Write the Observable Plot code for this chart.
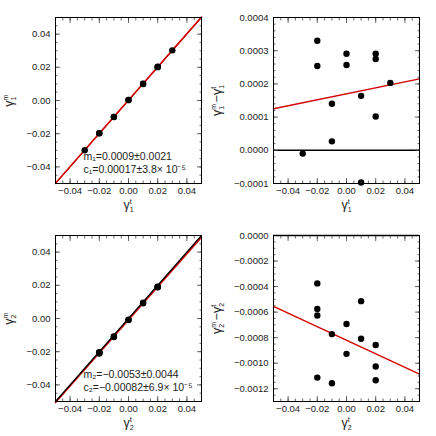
<!DOCTYPE html>
<html>
<head>
<meta charset="utf-8">
<script src="https://cdn.jsdelivr.net/npm/d3@7"></script>
<script src="https://cdn.jsdelivr.net/npm/@observablehq/plot@0.6"></script>
<style>
  html, body { margin: 0; padding: 0; background: #fff; }
  #wrap { position: relative; width: 436px; height: 436px; overflow: hidden; }
  #wrap > svg { position: absolute; overflow: visible; }
</style>
</head>
<body>
<div id="wrap"></div>
<script>
// ---------- data ----------
// true shear values for component 1 and residuals (measured - true)
const g1True  = [-0.03, -0.02, -0.02, -0.01, -0.01, 0.00, 0.00, 0.01, 0.01, 0.02, 0.02, 0.02, 0.03];
const g1Resid = [-0.000010, 0.000330, 0.000254, 0.000140, 0.000027, 0.000291, 0.000257, 0.000164, -0.000097, 0.000291, 0.000275, 0.000102, 0.000203];
// component 2
const g2True  = [-0.02, -0.02, -0.02, -0.02, -0.01, -0.01, 0.00, 0.00, 0.01, 0.01, 0.02, 0.02, 0.02];
const g2Resid = [-0.000375, -0.000575, -0.000627, -0.001113, -0.000772, -0.001157, -0.000693, -0.000927, -0.000514, -0.000808, -0.000858, -0.001026, -0.001134];
// fit parameters (measured = (1+m) * true + c)
const fitM = [0.0009, -0.0053];
const fitC = [0.00017, -0.00082];
const fitText1 = ["m\u2081=0.0009\u00b10.0021", "c\u2081=0.00017\u00b13.8\u00d7 10\u207b\u2075"];
const fitText2 = ["m\u2082=\u22120.0053\u00b10.0044", "c\u2082=\u22120.00082\u00b16.9\u00d7 10\u207b\u2075"];
// axes
const xDomain = [-0.05, 0.05];
const xTicks = [-0.04, -0.02, 0.00, 0.02, 0.04];
const yTicksA = [-0.04, -0.02, 0.00, 0.02, 0.04];
const yDomainB = [-0.0001, 0.0004];
const yTicksB = [-0.0001, 0.0000, 0.0001, 0.0002, 0.0003, 0.0004];
const yDomainD = [-0.0013, 0.0000];
const yTicksD = [-0.0012, -0.0010, -0.0008, -0.0006, -0.0004, -0.0002, 0.0000];
// axis labels: symbol with subscript and superscript
const labelX1 = [{s: "\u03b3", sub: "1", sup: "t"}];
const labelY1 = [{s: "\u03b3", sub: "1", sup: "m"}];
const labelR1 = [{s: "\u03b3", sub: "1", sup: "m"}, {s: "\u2212"}, {s: "\u03b3", sub: "1", sup: "t"}];
const labelX2 = [{s: "\u03b3", sub: "2", sup: "t"}];
const labelY2 = [{s: "\u03b3", sub: "2", sup: "m"}];
const labelR2 = [{s: "\u03b3", sub: "2", sup: "m"}, {s: "\u2212"}, {s: "\u03b3", sub: "2", sup: "t"}];

// ---------- helpers ----------
const W = 218, H = 218;
const margins = {marginLeft: 55, marginRight: 17, marginTop: 17, marginBottom: 35};
const FONT = "Liberation Sans, Arial, Helvetica, sans-serif";

function minorRange(domain, step) {
  const n = Math.round((domain[1] - domain[0]) / step);
  return d3.range(n + 1).map(i => +(domain[0] + i * step).toFixed(8));
}

function axisMarks(xMinor, yMajor, yMinor, yFmt, yLabelOffset) {
  const tk = {stroke: "#444", strokeWidth: 0.8};
  return [
    Plot.axisX(xTicks, {anchor: "bottom", tickSize: -5, text: null, label: null, ...tk}),
    Plot.axisX(xTicks, {anchor: "top", tickSize: -5, text: null, label: null, ...tk}),
    Plot.axisX(xMinor, {anchor: "bottom", tickSize: -2.5, text: null, label: null, ...tk}),
    Plot.axisX(xMinor, {anchor: "top", tickSize: -2.5, text: null, label: null, ...tk}),
    Plot.axisY(yMajor, {anchor: "left", tickSize: -5, text: null, label: null, ...tk}),
    Plot.axisY(yMajor, {anchor: "right", tickSize: -5, text: null, label: null, ...tk}),
    Plot.axisY(yMinor, {anchor: "left", tickSize: -2.5, text: null, label: null, ...tk}),
    Plot.axisY(yMinor, {anchor: "right", tickSize: -2.5, text: null, label: null, ...tk}),
    Plot.axisX(xTicks, {anchor: "bottom", tickSize: 0, tickPadding: 4, tickFormat: d3.format(".2f"),
      label: "x", labelAnchor: "center", labelArrow: "none", labelOffset: 25, fill: "#222"}),
    Plot.axisY(yMajor, {anchor: "left", tickSize: 0, tickPadding: 5, tickFormat: yFmt,
      label: "y", labelAnchor: "center", labelArrow: "none", labelOffset: yLabelOffset, fill: "#222"}),
    Plot.frame({stroke: "#000", strokeWidth: 1})
  ];
}

// rewrite an axis label as symbol + stacked sub/superscripts
function richLabel(svg, which, parts) {
  const g = svg.querySelector(`g[aria-label="${which}-axis label"]`);
  if (!g) return;
  const t = d3.select(g).select("text");
  t.text(null).attr("font-size", 12.5).attr("fill", "#222");
  parts.forEach((p, i) => {
    t.append("tspan").text(p.s).attr("dx", i > 0 && p.s === "\u2212" ? 1 : null);
    if (p.sub) {
      t.append("tspan").text(p.sub).attr("font-size", 7).attr("dy", 3);
      t.append("tspan").text(p.sup).attr("font-size", 7).attr("dx", -3.9).attr("dy", -8);
      t.append("tspan").text("\u200a").attr("font-size", 7).attr("dy", 5);
    }
  });
}

function place(svg, left, top) {
  svg.style.left = left + "px";
  svg.style.top = top + "px";
  document.getElementById("wrap").appendChild(svg);
}

const xMinor = minorRange(xDomain, 0.005);
const ends = xDomain;
const baseStyle = {fontFamily: FONT, fontSize: "9.5px", background: "transparent", overflow: "visible"};

function diagPanel(gTrue, gResid, m, c, txt, xl, yl, blackOnTop) {
  const pts = gTrue.map((t, i) => ({t, meas: t + gResid[i]}));
  const redLine = Plot.line(ends, {x: d => d, y: d => (1 + m) * d + c, stroke: "#d40000", strokeWidth: 1.6});
  const blackLine = Plot.line(ends, {x: d => d, y: d => d, stroke: "#000", strokeWidth: blackOnTop ? 1.2 : 1});
  const svg = Plot.plot({
    width: W, height: H, ...margins,
    style: baseStyle,
    x: {domain: xDomain},
    y: {domain: xDomain},
    marks: [
      ...(blackOnTop ? [redLine, blackLine] : [blackLine, redLine]),
      Plot.dot(pts, {x: "t", y: "meas", r: 3.2, fill: "#000", stroke: "none"}),
      Plot.text([txt[0]], {frameAnchor: "bottom-left", dx: 28, dy: -24, text: d => d, textAnchor: "start", fontSize: 10.5, fill: "#222"}),
      Plot.text([txt[1]], {frameAnchor: "bottom-left", dx: 28, dy: -11, text: d => d, textAnchor: "start", fontSize: 10.5, fill: "#222"}),
      ...axisMarks(xMinor, yTicksA, minorRange(xDomain, 0.005), d3.format(".2f"), 51)
    ]
  });
  richLabel(svg, "x", xl);
  richLabel(svg, "y", yl);
  return svg;
}

function residPanel(gTrue, gResid, m, c, yDomain, yMajor, yMinorStep, xl, yl) {
  const pts = gTrue.map((t, i) => ({t, r: gResid[i]}));
  const svg = Plot.plot({
    width: W, height: H, ...margins,
    style: baseStyle,
    x: {domain: xDomain},
    y: {domain: yDomain},
    marks: [
      Plot.ruleY([0], {stroke: "#000", strokeWidth: 1.6}),
      Plot.line(ends, {x: d => d, y: d => m * d + c, stroke: "#d40000", strokeWidth: 1.4}),
      Plot.dot(pts, {x: "t", y: "r", r: 3.2, fill: "#000", stroke: "none"}),
      ...axisMarks(xMinor, yMajor, minorRange(yDomain, yMinorStep), d3.format(".4f"), 61)
    ]
  });
  richLabel(svg, "x", xl);
  richLabel(svg, "y", yl);
  return svg;
}

place(diagPanel(g1True, g1Resid, fitM[0], fitC[0], fitText1, labelX1, labelY1, false), 0, 0);
place(residPanel(g1True, g1Resid, fitM[0], fitC[0], yDomainB, yTicksB, 0.00002, labelX1, labelR1), 218, 0);
place(diagPanel(g2True, g2Resid, fitM[1], fitC[1], fitText2, labelX2, labelY2, true), 0, 218);
place(residPanel(g2True, g2Resid, fitM[1], fitC[1], yDomainD, yTicksD, 0.00005, labelX2, labelR2), 218, 218);
</script>
</body>
</html>
